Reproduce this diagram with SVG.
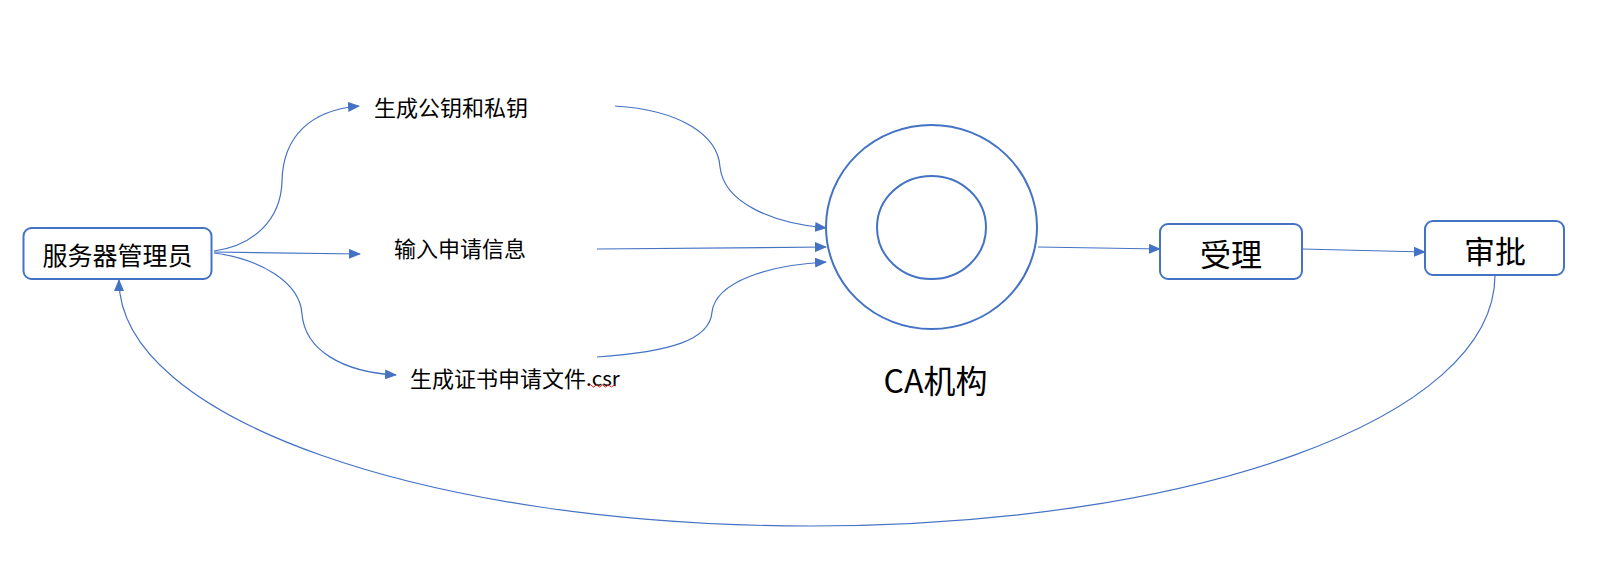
<svg xmlns="http://www.w3.org/2000/svg" width="1597" height="561" viewBox="0 0 1597 561">
<style>
.box{fill:#fff;stroke:#4472C4;stroke-width:2}
.ring{fill:none;stroke:#4472C4;stroke-width:2}
.conn{fill:none;stroke:#4472C4;stroke-width:1.2}
.t{font-family:"Noto Sans CJK SC","Liberation Sans",sans-serif;fill:#000}
</style>
<defs>
<marker id="ah" markerWidth="12" markerHeight="10" refX="11" refY="5" orient="auto" markerUnits="userSpaceOnUse">
<path d="M0,0 L12,5 L0,10 Z" fill="#4472C4"/>
</marker>
</defs>
<rect width="1597" height="561" fill="#fff"/>
<g id="connectors">
<path class="conn" d="M214,251 C252,246 281,221 282,181 C283,136 311,110 359,106" marker-end="url(#ah)"/>
<path class="conn" d="M214,252 L360,254" marker-end="url(#ah)"/>
<path class="conn" d="M214,253 C260,259 300,282 302,314 C305,350 342,372 396,375" marker-end="url(#ah)"/>
<path class="conn" d="M615,106 C680,110 718,135 720,167 C724,203 772,223 826,228" marker-end="url(#ah)"/>
<path class="conn" d="M597,249 L826,247" marker-end="url(#ah)"/>
<path class="conn" d="M597,357 C670,352 710,340 712,312 C716,281 770,265 826,262" marker-end="url(#ah)"/>
<path class="conn" d="M1038,247 L1160,249" marker-end="url(#ah)"/>
<path class="conn" d="M1302,249 L1425,252" marker-end="url(#ah)"/>
<path class="conn" d="M1495,275 C1495,420 1190,526 810,526 C430,526 119,420 119,280" marker-end="url(#ah)"/>
</g>
<g id="admin">
<rect class="box" x="23.5" y="228" width="188" height="51" rx="8"/>
<text class="t" x="117.5" y="254" font-size="25" text-anchor="middle" dominant-baseline="central">服务器管理员</text>
</g>
<g id="genkey">
<text class="t" x="451" y="106" font-size="22" text-anchor="middle" dominant-baseline="central">生成公钥和私钥</text>
</g>
<g id="input">
<text class="t" x="460" y="247" font-size="22" text-anchor="middle" dominant-baseline="central">输入申请信息</text>
</g>
<g id="csr">
<text class="t" x="410" y="377" font-size="22" dominant-baseline="central">生成证书申请文件<tspan font-size="20.5">.csr</tspan></text>
<path d="M589,386 q1.5,-2.2 3,0 t3,0 t3,0 t3,0 t3,0 t3,0 t3,0 t3,0 t3,0" fill="none" stroke="#e02020" stroke-width="1"/>
</g>
<g id="ca">
<ellipse class="ring" cx="931.5" cy="227" rx="105.5" ry="102"/>
<ellipse class="ring" cx="931.5" cy="227.5" rx="54.5" ry="51.5"/>
<text class="t" x="935.5" y="379" font-size="32" text-anchor="middle" dominant-baseline="central">CA机构</text>
</g>
<g id="accept">
<rect class="box" x="1160" y="224" width="142" height="55" rx="8"/>
<text class="t" x="1231" y="252" font-size="31" text-anchor="middle" dominant-baseline="central">受理</text>
</g>
<g id="approve">
<rect class="box" x="1425" y="221" width="139" height="54" rx="8"/>
<text class="t" x="1495" y="249" font-size="31" text-anchor="middle" dominant-baseline="central">审批</text>
</g>
</svg>
